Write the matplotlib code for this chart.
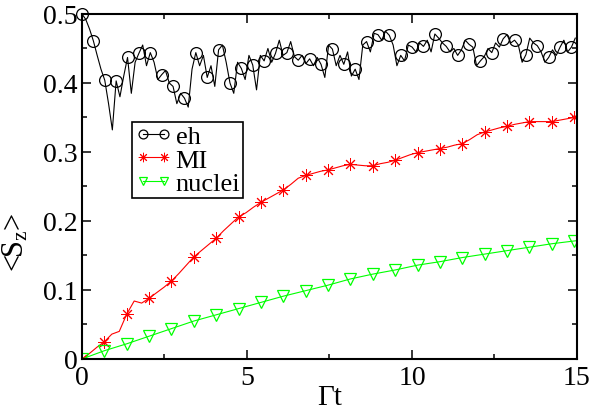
import numpy as np
import matplotlib
matplotlib.use("Agg")
from matplotlib import pyplot as plt

# eh: dense time grid, markers on every 3rd point
eh_dt = 0.115
eh_vals = [
    0.500, 0.492, 0.478, 0.461, 0.440, 0.420, 0.404, 0.370, 0.332, 0.403,
    0.380, 0.410, 0.437, 0.385, 0.430, 0.443, 0.455, 0.425, 0.444, 0.430,
    0.405, 0.412, 0.418, 0.400, 0.395, 0.370, 0.385, 0.378, 0.365, 0.420,
    0.444, 0.425, 0.440, 0.408, 0.425, 0.395, 0.448, 0.455, 0.430, 0.400,
    0.385, 0.430, 0.421, 0.405, 0.440, 0.426, 0.390, 0.440, 0.432, 0.450,
    0.430, 0.443, 0.462, 0.440, 0.444, 0.460, 0.438, 0.433, 0.440, 0.428,
    0.435, 0.425, 0.437, 0.427, 0.408, 0.455, 0.449, 0.425, 0.440, 0.427,
    0.445, 0.410, 0.420, 0.405, 0.455, 0.460, 0.445, 0.472, 0.470, 0.462,
    0.475, 0.469, 0.455, 0.425, 0.440, 0.432, 0.455, 0.452, 0.445, 0.458,
    0.453, 0.462, 0.445, 0.471, 0.465, 0.458, 0.453, 0.445, 0.450, 0.440,
    0.448, 0.462, 0.456, 0.452, 0.425, 0.432, 0.438, 0.450, 0.444, 0.458,
    0.452, 0.464, 0.470, 0.458, 0.462, 0.455, 0.430, 0.441, 0.465, 0.458,
    0.454, 0.445, 0.430, 0.437, 0.448, 0.440, 0.452, 0.462, 0.445, 0.452,
    0.465,
]

# MI: dense grid, markers on every 3rd point
mi_dt = 0.226
mi_vals = [
    0.000, 0.008, 0.017, 0.025, 0.036, 0.040, 0.065, 0.084, 0.081, 0.088,
    0.096, 0.104, 0.113, 0.124, 0.136, 0.148, 0.157, 0.166, 0.175, 0.186,
    0.196, 0.206, 0.212, 0.220, 0.227, 0.233, 0.239, 0.245, 0.253, 0.262,
    0.266, 0.269, 0.272, 0.274, 0.277, 0.280, 0.282, 0.281, 0.280, 0.280,
    0.283, 0.285, 0.288, 0.292, 0.296, 0.299, 0.301, 0.303, 0.305, 0.307,
    0.310, 0.312, 0.318, 0.325, 0.329, 0.332, 0.335, 0.337, 0.340, 0.342,
    0.344, 0.344, 0.344, 0.344, 0.346, 0.348, 0.350, 0.351,
]

# nuclei: one point per marker
nuc_dt = 0.678
nuc_vals = [
    0.000, 0.012, 0.022, 0.033, 0.044, 0.055, 0.064, 0.073, 0.082, 0.091,
    0.099, 0.107, 0.116, 0.123, 0.129, 0.136, 0.141, 0.147, 0.152, 0.157,
    0.162, 0.167, 0.171, 0.175,
]

eh_t = np.arange(len(eh_vals)) * eh_dt
mi_t = np.arange(len(mi_vals)) * mi_dt
nuc_t = np.arange(len(nuc_vals)) * nuc_dt

plt.rcParams["font.family"] = ["Liberation Serif", "DejaVu Serif"]
plt.rcParams["mathtext.fontset"] = "custom"
plt.rcParams["mathtext.rm"] = "Liberation Serif"
plt.rcParams["mathtext.it"] = "Liberation Serif"

fig = plt.figure(figsize=(5.92, 4.10), dpi=100)
ax = fig.add_axes([0.1385, 0.122, 0.836, 0.8415])

ax.plot(eh_t, eh_vals, color="black", lw=0.8, marker="o", markevery=3,
        ms=8.5, mfc="none", mec="black", mew=0.9, label="eh", clip_on=False)
ax.plot(mi_t, mi_vals, color="red", lw=0.8, marker=(8, 2, 0), markevery=3,
        ms=9, mec="red", mew=0.7, label="MI")
ax.plot(nuc_t, nuc_vals, color="#00ff00", lw=0.8, marker="v",
        ms=8.5, mfc="none", mec="#00ff00", mew=0.9, label="nuclei")

ax.set_xlim(0, 15)
ax.set_ylim(0, 0.5)
ax.set_xticks([0, 5, 10, 15])
ax.set_xticks([2.5, 7.5, 12.5], minor=True)
ax.set_yticks([0, 0.1, 0.2, 0.3, 0.4, 0.5])
ax.set_yticklabels(["0", "0.1", "0.2", "0.3", "0.4", "0.5"])
ax.set_yticks([0.05, 0.15, 0.25, 0.35, 0.45], minor=True)
ax.tick_params(which="both", direction="in", top=True, right=True,
               labelsize=20, width=1.1)
ax.tick_params(which="major", length=6.5, pad=3)
ax.tick_params(axis="x", which="major", pad=4)
ax.tick_params(which="minor", length=3.5)
for s in ax.spines.values():
    s.set_linewidth(1.5)

ax.set_xlabel("Γt", fontsize=21, labelpad=-4)
ax.set_ylabel("<S$_{\\rm z}$>", fontsize=22)
ax.yaxis.set_label_coords(-0.105, 0.34)

leg = ax.legend(loc="upper left", bbox_to_anchor=(0.101, 0.687),
                borderaxespad=0, fontsize=19, handlelength=1.4,
                handletextpad=0.15, labelspacing=0.0, borderpad=0.1,
                markerscale=0.75, numpoints=2, fancybox=False,
                framealpha=1, edgecolor="black")
leg.get_frame().set_linewidth(1.2)

fig.savefig("out.png", dpi=100)
